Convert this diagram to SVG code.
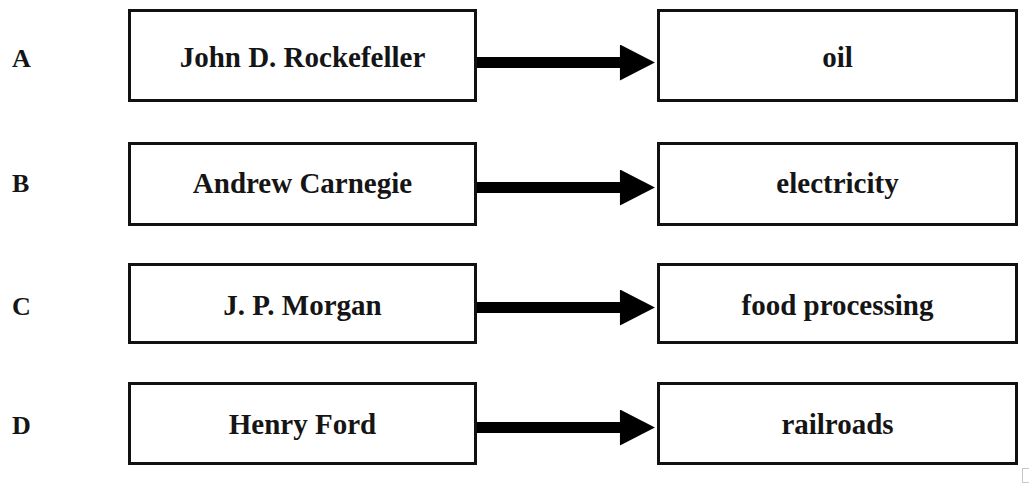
<svg xmlns="http://www.w3.org/2000/svg" width="1029" height="483" viewBox="0 0 1029 483">
<style>
.box{fill:#fff;stroke:#111;stroke-width:3}
.t{font-family:"Liberation Serif","Times New Roman",serif;font-weight:bold;font-size:29px;fill:#151515;text-anchor:middle}
.l{font-family:"Liberation Serif","Times New Roman",serif;font-weight:bold;font-size:26px;fill:#151515}
.arr{stroke:#000;stroke-width:11;fill:none}
</style>
<defs>
<marker id="ah" markerUnits="userSpaceOnUse" markerWidth="36" markerHeight="36" viewBox="0 0 34 35" refX="2" refY="17.5" orient="auto">
<path d="M0,0 L34,17.5 L0,35 Z" fill="#000"/>
</marker>
</defs>
<rect x="0" y="0" width="1029" height="483" fill="#fff"/>
<g id="labels">
<text class="l" x="12" y="67">A</text>
<text class="l" x="12" y="192">B</text>
<text class="l" x="12" y="315">C</text>
<text class="l" x="12" y="434">D</text>
</g>
<g id="connectors">
<line class="arr" x1="477" y1="62.5" x2="622" y2="62.5" marker-end="url(#ah)"/>
<line class="arr" x1="477" y1="187.5" x2="622" y2="187.5" marker-end="url(#ah)"/>
<line class="arr" x1="477" y1="307.5" x2="622" y2="307.5" marker-end="url(#ah)"/>
<line class="arr" x1="477" y1="427.5" x2="622" y2="427.5" marker-end="url(#ah)"/>
</g>
<g id="rockefeller"><rect class="box" x="129.5" y="10.5" width="346" height="90"/><text class="t" x="302.5" y="67">John D. Rockefeller</text></g>
<g id="oil"><rect class="box" x="658.5" y="10.5" width="358" height="90"/><text class="t" x="837.5" y="67">oil</text></g>
<g id="carnegie"><rect class="box" x="129.5" y="143.5" width="346" height="81"/><text class="t" x="302.5" y="193">Andrew Carnegie</text></g>
<g id="electricity"><rect class="box" x="658.5" y="143.5" width="358" height="81"/><text class="t" x="837.5" y="193">electricity</text></g>
<g id="morgan"><rect class="box" x="129.5" y="264.5" width="346" height="78"/><text class="t" x="302.5" y="315">J. P. Morgan</text></g>
<g id="food"><rect class="box" x="658.5" y="264.5" width="358" height="78"/><text class="t" x="837.5" y="315">food processing</text></g>
<g id="ford"><rect class="box" x="129.5" y="383.5" width="346" height="80"/><text class="t" x="302.5" y="434">Henry Ford</text></g>
<g id="railroads"><rect class="box" x="658.5" y="383.5" width="358" height="80"/><text class="t" x="837.5" y="434">railroads</text></g>
<rect x="1022.5" y="468.5" width="10" height="14" fill="none" stroke="#c8c8c8" stroke-width="1"/>
</svg>
